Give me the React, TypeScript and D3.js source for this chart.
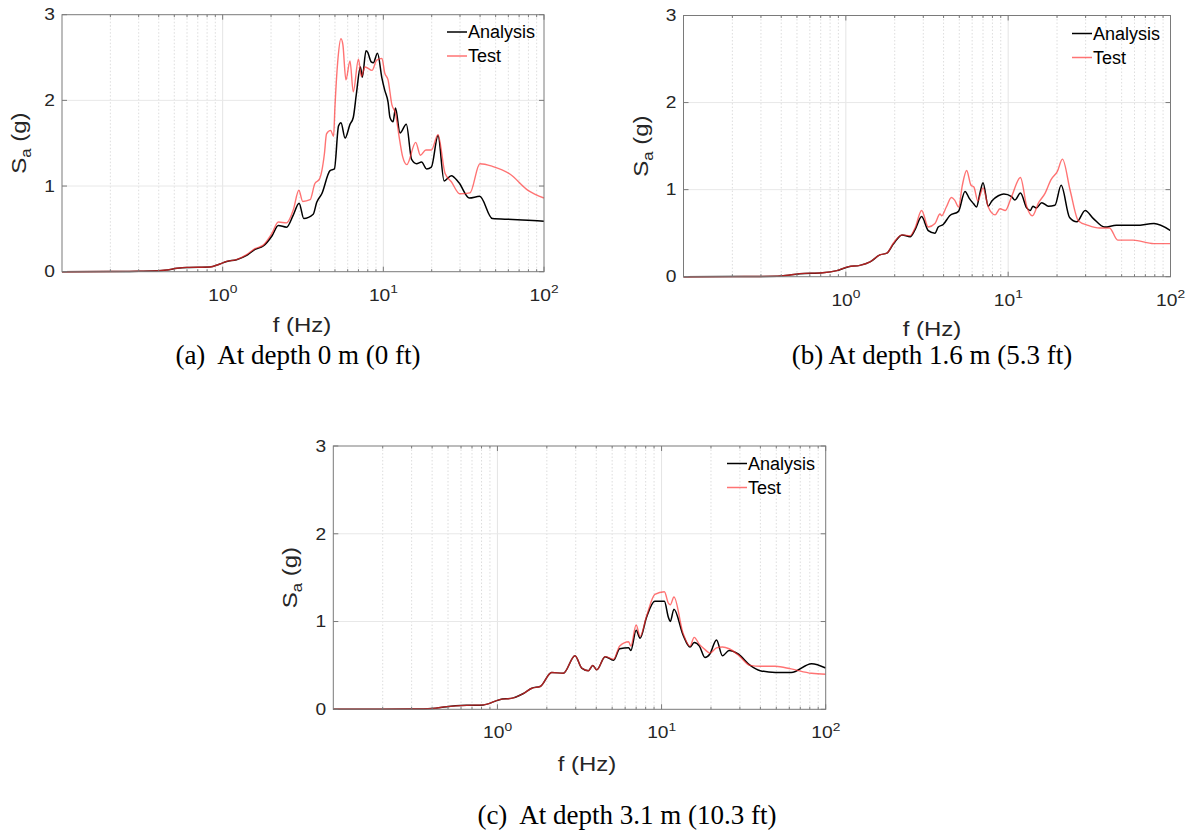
import React from 'react';
import * as d3 from 'd3';

// ---------- DATA ----------
// Panel (a) depth 0 m
const fA_analysis = [0.1, 0.2, 0.3, 0.4, 0.45, 0.52, 0.6, 0.83, 0.96, 1.06, 1.22, 1.41, 1.59, 1.79, 2.03, 2.22, 2.5, 2.75, 2.99, 3.2, 3.66, 3.85, 4.14, 4.66, 4.96, 5.26, 5.45, 5.78, 6.2, 6.5, 6.8, 7.2, 7.4, 7.8, 8.0, 8.4, 8.66, 9.2, 9.8, 10.2, 10.7, 11.0, 11.5, 11.9, 12.7, 13.9, 15.0, 16.1, 17.3, 18.6, 19.9, 21.9, 23.9, 26.5, 29.5, 34.3, 39.8, 47.7, 63.9, 79.6, 100];
const sA_analysis = [0, 0.002, 0.005, 0.01, 0.02, 0.04, 0.05, 0.055, 0.09, 0.12, 0.14, 0.19, 0.26, 0.3, 0.42, 0.54, 0.52, 0.66, 0.8, 0.62, 0.67, 0.81, 0.91, 1.18, 1.2, 1.7, 1.74, 1.56, 1.72, 1.8, 2.08, 2.39, 2.27, 2.58, 2.56, 2.45, 2.44, 2.55, 2.26, 2.12, 1.98, 1.8, 1.75, 1.91, 1.62, 1.72, 1.31, 1.26, 1.28, 1.2, 1.22, 1.59, 1.06, 1.12, 1.04, 0.86, 0.88, 0.62, 0.61, 0.6, 0.59];
const fA_test = [0.1, 0.2, 0.3, 0.4, 0.45, 0.52, 0.6, 0.83, 0.96, 1.06, 1.22, 1.41, 1.59, 1.79, 2.03, 2.22, 2.5, 2.75, 2.98, 3.15, 3.5, 3.75, 4.0, 4.3, 4.43, 4.7, 4.9, 5.0, 5.2, 5.45, 5.6, 5.85, 6.2, 6.5, 7.0, 7.3, 7.7, 8.5, 9.1, 9.8, 10.2, 10.7, 11.3, 11.9, 12.6, 13.2, 14.0, 15.9, 17.0, 18.4, 19.9, 21.9, 24.2, 26.5, 29.9, 34.6, 39.9, 47.7, 61.3, 79.5, 100];
const sA_test = [0, 0.002, 0.005, 0.012, 0.02, 0.04, 0.05, 0.055, 0.09, 0.12, 0.14, 0.2, 0.27, 0.31, 0.45, 0.58, 0.57, 0.72, 0.95, 0.82, 0.84, 1.03, 1.08, 1.38, 1.61, 1.65, 1.58, 1.93, 2.45, 2.72, 2.65, 2.24, 2.46, 2.1, 2.48, 2.28, 2.39, 2.35, 2.47, 2.49, 2.32, 2.24, 1.95, 1.85, 1.55, 1.34, 1.25, 1.51, 1.36, 1.42, 1.42, 1.6, 1.15, 1.05, 0.91, 0.92, 1.26, 1.23, 1.14, 0.95, 0.86];

// Panel (b) depth 1.6 m
const fB_analysis = [0.1, 0.2, 0.3, 0.4, 0.52, 0.72, 0.88, 1.04, 1.22, 1.41, 1.62, 1.79, 1.97, 2.22, 2.49, 2.67, 2.93, 3.22, 3.54, 3.71, 3.98, 4.36, 4.94, 5.42, 5.76, 6.11, 6.38, 6.7, 7.0, 7.54, 7.93, 8.7, 9.4, 10.5, 11.0, 11.9, 13.0, 13.7, 14.2, 14.9, 16.1, 17.7, 19.4, 21.2, 23.9, 26.5, 29.8, 33.4, 39.3, 46.4, 61.8, 78.9, 100];
const sB_analysis = [0, 0.001, 0.003, 0.008, 0.035, 0.046, 0.07, 0.115, 0.13, 0.17, 0.25, 0.27, 0.38, 0.48, 0.46, 0.54, 0.69, 0.53, 0.5, 0.57, 0.6, 0.7, 0.75, 0.98, 0.9, 0.84, 0.8, 0.96, 1.08, 0.81, 0.87, 0.93, 0.95, 0.92, 0.88, 0.96, 0.79, 0.76, 0.81, 0.79, 0.85, 0.81, 0.82, 1.05, 0.68, 0.63, 0.76, 0.67, 0.57, 0.59, 0.59, 0.61, 0.53];
const fB_test = [0.1, 0.2, 0.3, 0.4, 0.52, 0.72, 0.88, 1.04, 1.22, 1.41, 1.62, 1.79, 1.97, 2.22, 2.49, 2.67, 2.93, 3.22, 3.54, 3.8, 3.9, 4.16, 4.47, 4.68, 4.95, 5.22, 5.55, 5.9, 6.15, 6.5, 7.0, 7.54, 8.3, 8.9, 9.6, 10.5, 11.9, 13.0, 14.1, 15.4, 16.9, 18.3, 20.1, 21.6, 24.1, 27.1, 31.1, 36.6, 42.1, 47.3, 58.8, 78.9, 100];
const sB_test = [0, 0.001, 0.003, 0.008, 0.035, 0.046, 0.07, 0.115, 0.13, 0.17, 0.25, 0.27, 0.39, 0.48, 0.47, 0.56, 0.76, 0.57, 0.61, 0.72, 0.7, 0.8, 0.91, 0.88, 0.8, 1.05, 1.22, 1.05, 1.03, 0.87, 1.02, 0.8, 0.71, 0.78, 0.76, 0.92, 1.14, 0.81, 0.7, 0.85, 0.96, 1.11, 1.21, 1.35, 0.99, 0.64, 0.59, 0.56, 0.56, 0.42, 0.42, 0.38, 0.38];

// Panel (c) depth 3.1 m
const fC_analysis = [0.1, 0.2, 0.3, 0.4, 0.49, 0.65, 0.82, 1.03, 1.25, 1.44, 1.62, 1.82, 2.14, 2.52, 2.97, 3.26, 3.58, 3.81, 4.03, 4.53, 5.1, 5.56, 6.3, 6.5, 7.0, 7.4, 8.1, 9.1, 10.4, 11.0, 11.3, 11.9, 13.5, 14.9, 15.8, 17.0, 18.4, 19.7, 21.6, 23.5, 25.8, 29.3, 34.7, 39.9, 49.4, 61.6, 82, 100];
const sC_analysis = [0, 0.001, 0.003, 0.01, 0.03, 0.045, 0.05, 0.11, 0.13, 0.18, 0.24, 0.26, 0.42, 0.41, 0.61, 0.47, 0.44, 0.5, 0.45, 0.6, 0.56, 0.69, 0.7, 0.67, 0.9, 0.81, 1.05, 1.23, 1.23, 1.05, 1.0, 1.14, 0.85, 0.71, 0.76, 0.72, 0.59, 0.63, 0.79, 0.61, 0.67, 0.63, 0.5, 0.44, 0.42, 0.42, 0.52, 0.47];
const fC_test = [0.1, 0.2, 0.3, 0.4, 0.49, 0.65, 0.82, 1.03, 1.25, 1.44, 1.62, 1.82, 2.14, 2.52, 2.97, 3.26, 3.58, 3.81, 4.03, 4.53, 5.1, 5.56, 6.3, 6.5, 7.0, 7.4, 8.1, 9.1, 10.4, 11.0, 11.3, 11.9, 13.5, 14.9, 15.8, 17.0, 18.4, 19.7, 21.6, 23.5, 25.8, 29.3, 34.7, 39.9, 49.4, 61.6, 82, 100];
const sC_test = [0, 0.001, 0.003, 0.01, 0.03, 0.045, 0.05, 0.11, 0.13, 0.18, 0.24, 0.26, 0.42, 0.41, 0.61, 0.47, 0.44, 0.5, 0.45, 0.6, 0.57, 0.72, 0.77, 0.72, 0.96, 0.83, 1.06, 1.31, 1.34, 1.21, 1.19, 1.28, 0.87, 0.72, 0.82, 0.74, 0.68, 0.64, 0.7, 0.71, 0.69, 0.62, 0.5, 0.49, 0.49, 0.46, 0.41, 0.4];

const yTickValues = [0, 1, 2, 3];
const xTickValues = [1, 10, 100];
const xTickExponents = ['0', '1', '2'];
const seriesNames = ['Analysis', 'Test'];
const captions = ['(a)  At depth 0 m (0 ft)', '(b) At depth 1.6 m (5.3 ft)', '(c)  At depth 3.1 m (10.3 ft)'];

// ---------- LAYOUT ----------
const panels = [
  { left: 62, top: 14.7, width: 482, height: 257, fa: fA_analysis, sa: sA_analysis, ft: fA_test, st: sA_test, legX: 447, legY: 32, xlabX: 302, xlabY: 332, capX: 298, capY: 364, caption: captions[0] },
  { left: 683.5, top: 15.5, width: 487, height: 261.2, fa: fB_analysis, sa: sB_analysis, ft: fB_test, st: sB_test, legX: 1072, legY: 33.5, xlabX: 932, xlabY: 336, capX: 932, capY: 364, caption: captions[1] },
  { left: 333.3, top: 446, width: 492.4, height: 263.3, fa: fC_analysis, sa: sC_analysis, ft: fC_test, st: sC_test, legX: 727, legY: 463.5, xlabX: 587, xlabY: 771, capX: 627, capY: 824, caption: captions[2] },
];

const AX = '#262626';
const FONT = 'Liberation Sans, Arial, Helvetica, sans-serif';
const RED = '#ff3030';
const SX = 1.2; // horizontal stretch of axis text in the reference

function Panel({ p }: { p: any }) {
  const x = d3.scaleLog().domain([0.1, 100]).range([p.left, p.left + p.width]);
  const y = d3.scaleLinear().domain([0, 3]).range([p.top + p.height, p.top]);
  const minor: number[] = [];
  [0.1, 1, 10].forEach((d) => {
    for (let k = 2; k <= 9; k++) minor.push(d * k);
  });
  const line = d3
    .line<number>()
    .x((d: any) => x(d[0]))
    .y((d: any) => y(d[1]))
    .curve(d3.curveMonotoneX) as any;
  const aPts = p.fa.map((f: number, i: number) => [f, p.sa[i]]);
  const tPts = p.ft.map((f: number, i: number) => [f, p.st[i]]);
  const x0 = p.left, x1 = p.left + p.width, y0 = p.top + p.height, y1 = p.top;
  return (
    <g>
      {/* minor x grid */}
      {minor.map((m) => (
        <line key={'mg' + m} x1={x(m)} x2={x(m)} y1={y1} y2={y0} stroke="#cfcfcf" strokeWidth={0.7} strokeDasharray="1.5,2" />
      ))}
      {/* major x grid */}
      {xTickValues.slice(0, 2).map((m) => (
        <line key={'Mg' + m} x1={x(m)} x2={x(m)} y1={y1} y2={y0} stroke="#e4e4e4" strokeWidth={1} />
      ))}
      {/* y grid */}
      {[1, 2].map((v) => (
        <line key={'yg' + v} x1={x0} x2={x1} y1={y(v)} y2={y(v)} stroke="#e8e8e8" strokeWidth={1} />
      ))}
      {/* series */}
      <path d={line(aPts)} fill="none" stroke="#000" strokeWidth={1.5} strokeLinejoin="round" />
      <path d={line(tPts)} fill="none" stroke={RED} strokeOpacity={0.68} strokeWidth={1.4} strokeLinejoin="round" />
      {/* box */}
      <rect x={x0} y={y1} width={p.width} height={p.height} fill="none" stroke="#7a7a7a" strokeWidth={1} />
      {/* y ticks */}
      {yTickValues.map((v) => (
        <g key={'yt' + v}>
          <line x1={x0} x2={x0 + 5} y1={y(v)} y2={y(v)} stroke="#7a7a7a" />
          <line x1={x1} x2={x1 - 5} y1={y(v)} y2={y(v)} stroke="#7a7a7a" />
          <text transform={`translate(${x0 - 7},${y(v)}) scale(${SX},1)`} dy="0.36em" textAnchor="end" fontFamily={FONT} fontSize={16} fill={AX}>
            {v}
          </text>
        </g>
      ))}
      {/* x ticks */}
      {minor.map((m) => (
        <g key={'mt' + m}>
          <line x1={x(m)} x2={x(m)} y1={y0} y2={y0 - 2.5} stroke="#7a7a7a" />
          <line x1={x(m)} x2={x(m)} y1={y1} y2={y1 + 2.5} stroke="#7a7a7a" />
        </g>
      ))}
      {xTickValues.map((m, i) => (
        <g key={'xt' + m}>
          <line x1={x(m)} x2={x(m)} y1={y0} y2={y0 - 5} stroke="#7a7a7a" />
          <line x1={x(m)} x2={x(m)} y1={y1} y2={y1 + 5} stroke="#7a7a7a" />
          <g transform={`translate(${x(m)},${y0 + 29}) scale(${SX},1)`}>
            <text x={-12} y={0} fontFamily={FONT} fontSize={16} fill={AX}>
              10
            </text>
            <text x={5.8} y={-7.5} fontFamily={FONT} fontSize={11.5} fill={AX}>
              {xTickExponents[i]}
            </text>
          </g>
        </g>
      ))}
      {/* axis labels */}
      <text transform={`translate(${p.xlabX},${p.xlabY}) scale(${SX},1)`} textAnchor="middle" fontFamily={FONT} fontSize={20} fill={AX}>
        f (Hz)
      </text>
      <text
        transform={`translate(${x0 - 36},${(y0 + y1) / 2}) rotate(-90) scale(${SX},1)`}
        textAnchor="middle"
        fontFamily={FONT}
        fontSize={20}
        fill={AX}
      >
        S<tspan fontSize={14} dy={5}>a</tspan>
        <tspan dy={-5}> (g)</tspan>
      </text>
      {/* legend */}
      {seriesNames.map((n, i) => (
        <g key={n}>
          <line
            x1={p.legX}
            x2={p.legX + 20}
            y1={p.legY + i * 24}
            y2={p.legY + i * 24}
            stroke={i === 0 ? '#000' : RED}
            strokeOpacity={i === 0 ? 1 : 0.68}
            strokeWidth={1.5}
          />
          <text x={p.legX + 21} y={p.legY + i * 24} dy="0.36em" fontFamily={FONT} fontSize={18} fill="#000">
            {n}
          </text>
        </g>
      ))}
      {/* caption */}
      <text x={p.capX} y={p.capY} textAnchor="middle" fontFamily="Liberation Serif, Times New Roman, serif" fontSize={27} fill="#000" xmlSpace="preserve">
        {p.caption}
      </text>
    </g>
  );
}

export default function App() {
  return (
    <svg width={1192} height={831} style={{ position: 'absolute', left: 0, top: 0, background: '#fff' }}>
      <rect width={1192} height={831} fill="#fff" />
      {panels.map((p, i) => (
        <Panel key={i} p={p} />
      ))}
    </svg>
  );
}
